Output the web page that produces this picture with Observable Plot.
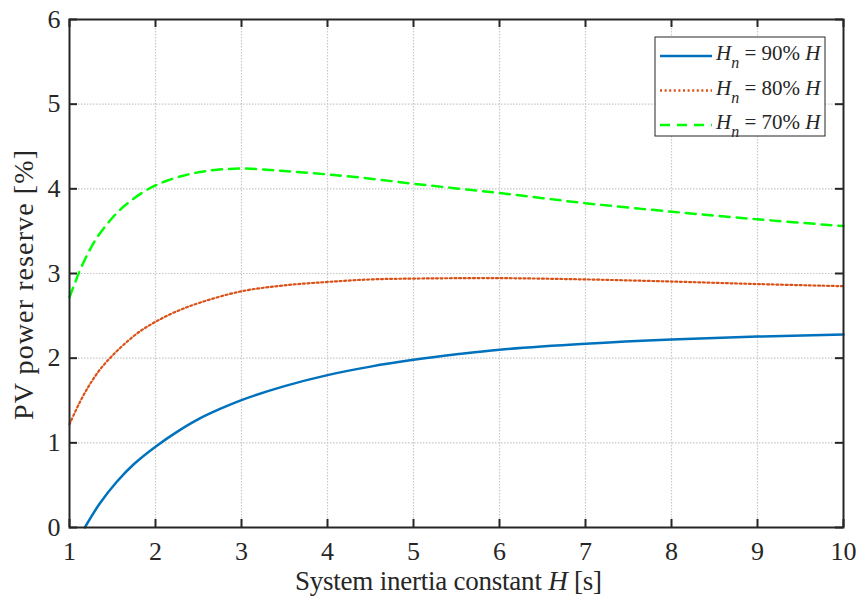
<!DOCTYPE html>
<html><head><meta charset="utf-8">
<script src="https://cdn.jsdelivr.net/npm/d3@7"></script>
<script src="https://cdn.jsdelivr.net/npm/@observablehq/plot@0.6"></script>
<style>body{margin:0;background:#fff;overflow:hidden}</style>
</head><body><div id="chart"></div>
<script>
// ---- data ----
const xTicks = [1, 2, 3, 4, 5, 6, 7, 8, 9, 10];
const yTicks = [0, 1, 2, 3, 4, 5, 6];
const seriesPct = ["90%", "80%", "70%"];
const seriesColors = ["#0072BD", "#D95319", "#00FF00"];

const h90X = [1.178, 1.35, 1.55, 1.75, 2, 2.25, 2.5, 2.75, 3, 3.5, 4, 4.5, 5, 5.5, 6, 7, 8, 9, 10];
const h90Y = [0, 0.28, 0.54, 0.75, 0.955, 1.13, 1.28, 1.40, 1.505, 1.67, 1.80, 1.90, 1.98, 2.045, 2.10, 2.17, 2.22, 2.255, 2.28];

const h80X = [1, 1.12, 1.236, 1.35, 1.47, 1.62, 1.81, 2, 2.24, 2.515, 3, 3.5, 4, 4.5, 5, 6, 7, 8, 9, 10];
const h80Y = [1.22, 1.48, 1.69, 1.86, 2.00, 2.15, 2.31, 2.43, 2.55, 2.655, 2.79, 2.86, 2.90, 2.93, 2.94, 2.945, 2.93, 2.905, 2.875, 2.85];

const h70X = [1, 1.06, 1.14, 1.236, 1.33, 1.45, 1.565, 1.72, 1.895, 2, 2.13, 2.32, 2.59, 3, 3.5, 4, 4.5, 5, 5.5, 6, 6.5, 7, 8, 9, 10];
const h70Y = [2.72, 2.88, 3.08, 3.28, 3.44, 3.60, 3.73, 3.865, 3.985, 4.04, 4.095, 4.155, 4.21, 4.24, 4.21, 4.17, 4.12, 4.06, 4.005, 3.95, 3.89, 3.83, 3.73, 3.64, 3.56];

const toRows = (xs, ys) => xs.map((x, i) => ({x, y: ys[i]}));
const d90 = toRows(h90X, h90Y), d80 = toRows(h80X, h80Y), d70 = toRows(h70X, h70Y);

const W = 859, H = 601, mL = 69, mR = 16, mT = 19, mB = 74;
const innerW = W - mL - mR, innerH = H - mT - mB;
const axisColor = "#262626";
const font = "'Liberation Serif', 'Times New Roman', serif";
const dashes = [null, "2,2.6", "10,7"];

const plot = Plot.plot({
  width: W, height: H,
  marginLeft: mL, marginRight: mR, marginTop: mT, marginBottom: mB,
  style: {fontFamily: font, background: "#fff", color: axisColor, overflow: "visible"},
  x: {domain: [1, 10]},
  y: {domain: [0, 6]},
  marks: [
    Plot.ruleX(xTicks.slice(1, -1), {x: d => d, stroke: "#c8c8c8", strokeWidth: 1.2, strokeDasharray: "1.5,1.5"}),
    Plot.ruleY(yTicks.slice(1, -1), {y: d => d, stroke: "#c8c8c8", strokeWidth: 1.2, strokeDasharray: "1.5,1.5"}),
    Plot.line(d90, {x: "x", y: "y", stroke: seriesColors[0], strokeWidth: 2.5, curve: "catmull-rom"}),
    Plot.line(d80, {x: "x", y: "y", stroke: seriesColors[1], strokeWidth: 2.2, strokeDasharray: dashes[1], curve: "catmull-rom"}),
    Plot.line(d70, {x: "x", y: "y", stroke: seriesColors[2], strokeWidth: 2.5, strokeDasharray: dashes[2], curve: "catmull-rom"}),
    Plot.frame({stroke: axisColor, strokeWidth: 2}),
    Plot.tickX(xTicks, {x: d => d, insetTop: innerH - 8, stroke: axisColor, strokeWidth: 2}),
    Plot.tickX(xTicks, {x: d => d, insetBottom: innerH - 8, stroke: axisColor, strokeWidth: 2}),
    Plot.tickY(yTicks, {y: d => d, insetRight: innerW - 8, stroke: axisColor, strokeWidth: 2}),
    Plot.tickY(yTicks, {y: d => d, insetLeft: innerW - 8, stroke: axisColor, strokeWidth: 2}),
    Plot.axisX(xTicks, {tickSize: 0, tickPadding: 14.5, fontSize: 26, tickFormat: d => String(d), label: null}),
    Plot.axisY(yTicks, {tickSize: 0, tickPadding: 9, fontSize: 26, tickFormat: d => String(d), label: null})
  ]
});
document.getElementById("chart").appendChild(plot);

const svg = d3.select(plot);
// x axis label
const xl = svg.append("text").attr("x", 448.5).attr("y", 590)
  .attr("text-anchor", "middle").attr("font-size", 27).attr("fill", axisColor)
  .attr("textLength", 307).attr("lengthAdjust", "spacing");
xl.append("tspan").text("System inertia constant ");
xl.append("tspan").attr("font-style", "italic").text("H");
xl.append("tspan").text(" [s]");
// y axis label
svg.append("text").attr("transform", "translate(33,285) rotate(-90)")
  .attr("text-anchor", "middle").attr("font-size", 28).attr("fill", axisColor)
  .attr("textLength", 270).attr("lengthAdjust", "spacing")
  .text("PV power reserve [%]");

// legend
const lg = svg.append("g");
lg.append("rect").attr("x", 655).attr("y", 37).attr("width", 170).attr("height", 99)
  .attr("fill", "#fff").attr("stroke", axisColor).attr("stroke-width", 1);
const rowY = [56, 90.5, 125];
seriesPct.forEach((p, i) => {
  lg.append("line").attr("x1", 660).attr("x2", 712).attr("y1", rowY[i]).attr("y2", rowY[i])
    .attr("stroke", seriesColors[i]).attr("stroke-width", 2.5)
    .attr("stroke-dasharray", dashes[i]);
  const t = lg.append("text").attr("x", 716).attr("y", rowY[i] + 4)
    .attr("text-anchor", "start").attr("font-size", 21).attr("fill", axisColor);
  t.append("tspan").attr("font-style", "italic").text("H");
  t.append("tspan").attr("font-style", "italic").attr("font-size", 16).attr("dy", 8).text("n");
  t.append("tspan").attr("dy", -8).text(` = ${p} `);
  t.append("tspan").attr("font-style", "italic").text("H");
});
</script>
</body></html>
